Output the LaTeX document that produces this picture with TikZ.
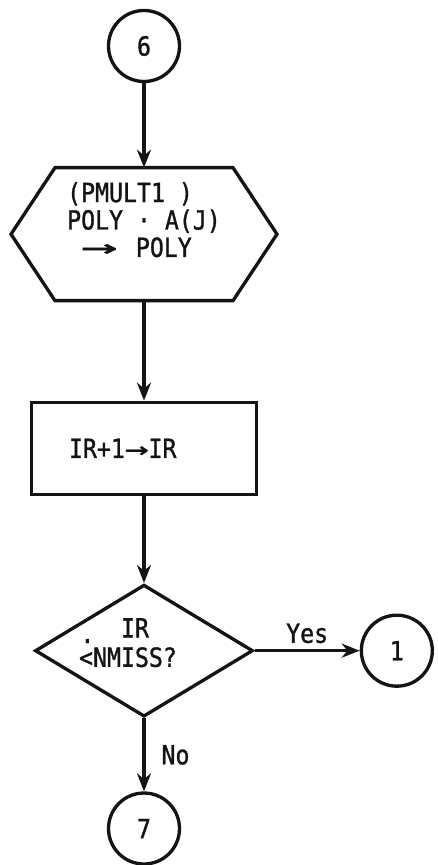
\documentclass[tikz,border=0pt]{standalone}
\usepackage{fontspec}
\usepackage{graphicx}
\usepackage{tikz}
\usetikzlibrary{shapes.geometric,arrows.meta,positioning,calc}
\newfontfamily\flowfont[FakeStretch=0.88, FakeBold=1.2]{DejaVu Sans Mono}
\definecolor{inkblack}{RGB}{20, 20, 20}

\begin{document}
\begin{tikzpicture}[
    >={Stealth[length=3.6mm, width=2.8mm]},
    line width=1.9pt,
    every node/.style={font=\flowfont\fontsize{15pt}{15.6pt}\selectfont, text=inkblack},
    connector/.style={draw=inkblack, circle, minimum size=1.42cm, inner sep=0pt},
    hexbox/.style={rectangle, minimum width=3.56cm, minimum height=2.66cm, inner sep=0pt, outer sep=0pt},
    procbox/.style={draw=inkblack, rectangle, minimum width=4.5cm, minimum height=1.84cm, text width=3cm, inner xsep=0.75cm, align=left},
    decision/.style={draw=inkblack, diamond, minimum width=4.36cm, minimum height=2.64cm, inner sep=0pt},
    arrow/.style={->, inkblack}
]
    \useasboundingbox (0,0) rectangle (8.74,-17.3);

    \node[connector] (c6) at (2.88,-0.92) {6};
    \node[hexbox, below=1.69cm of c6] (poly) {};
    \node[align=left, yshift=0.29cm] (polytext) at (poly) {(PMULT1 )\\POLY · A(J)\\\phantom{P}\scalebox{2.6}[1.1]{→}\hspace{0.7em}POLY};
    \node[procbox, below=2.0cm of poly] (incr) {IR+1\scalebox{1.7}[1]{→}IR};
    \node[decision, below=1.74cm of incr] (test) {};
    \node[align=left, xshift=-0.32cm, yshift=0.16cm] (testtext) at (test) {\phantom{<NM}IR\\\makebox[0pt][l]{\raisebox{0.9em}{\hspace{0.05em}.}}<NMISS?};
    \node[connector, right=2.1cm of test] (c1) {1};
    \node[connector, below=1.46cm of test] (c7) {7};

    % Hexagon outline
    \draw[inkblack, line join=miter] (poly.north west) -- (poly.north east) -- ($(poly.east)+(0.88,0)$) -- (poly.south east) -- (poly.south west) -- ($(poly.west)+(-0.88,0)$) -- cycle;

    % Main flow
    \draw[arrow] (c6) -- (poly);
    \draw[arrow] (poly) -- (incr);
    \draw[arrow] (incr) -- (test);

    % Branches
    \draw[arrow] (test) -- node[above] {Yes} (c1);
    \draw[arrow] (test) -- node[right=0.2cm] {No} (c7);

\end{tikzpicture}
\end{document}
